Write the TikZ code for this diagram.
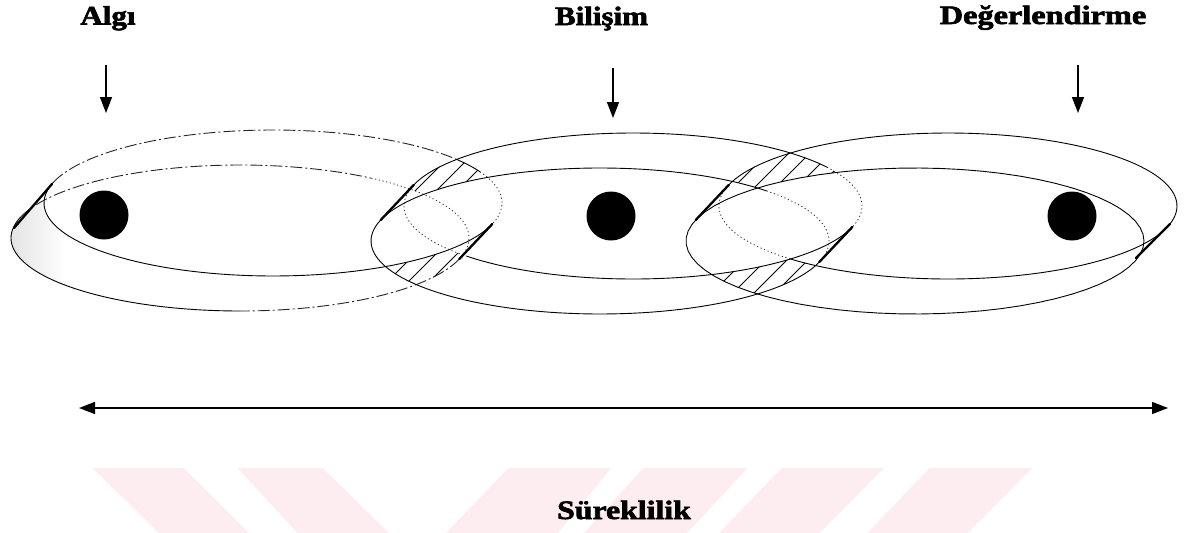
\documentclass[tikz,border=0pt]{standalone}
\usepackage{fontspec}
\setmainfont{Liberation Serif}
\newfontfamily\labfont[FakeBold=2.2]{Liberation Serif Bold}
\usetikzlibrary{arrows.meta}
\definecolor{wm}{HTML}{FDEDF0}
% ellipse arc: center (#1,#2), angles #3..#4 (screen y downwards)
\newcommand\earc[4]{plot[domain=#3:#4,samples=70,variable=\ang]({#1+229*cos(\ang)},{#2+73*sin(\ang)})}
% swept band region of a ring whose upper rim has centre (#1,#2)
\newcommand\swept[2]{plot[domain=196.7:376.7,samples=70,variable=\ang]({#1+229*cos(\ang)},{#2+73*sin(\ang)}) -- plot[domain=16.7:196.7,samples=70,variable=\ang]({#1-33+229*cos(\ang)},{#2+35+73*sin(\ang)}) -- cycle}
\newcommand\bigrect{(-100,-100) rectangle (1300,700)}
\newcommand\hatchpair[4]{%
  \foreach \oa in {0,1}{\foreach \ob in {0,1}{%
    \begin{scope}[even odd rule]
      \clip \swept{#1}{#2};
      \clip \swept{#3}{#4};
      \clip \bigrect \earc{#1-33*\oa}{#2+35*\oa}{0}{360} -- cycle;
      \clip \bigrect \earc{#3-33*\ob}{#4+35*\ob}{0}{360} -- cycle;
      \foreach \h in {150,171,...,900} \draw[hatchline] (\h,330) -- ++(220,-220);
    \end{scope}}}}
\begin{document}
\begin{tikzpicture}[x=1pt,y=-1pt,
  rim/.style={line width=0.9pt, black},
  rimone/.style={line width=0.9pt, black!85, dash pattern=on 12pt off 3pt on 2pt off 3pt},
  hid/.style={line width=0.8pt, black!80, dash pattern=on 1.2pt off 2.6pt},
  sil/.style={line width=2.3pt, black, line cap=round},
  hatchline/.style={line width=0.8pt, black},
  dot/.style={circle, fill=black, minimum size=49pt, inner sep=0pt},
  lab/.style={font=\labfont\fontsize{26.5}{31}\selectfont, inner sep=0pt, anchor=base},
  varr/.style={line width=1.5pt, -{Triangle[length=16pt,width=12pt]}},
  harr/.style={line width=1.4pt, {Triangle[length=16pt,width=12pt]}-{Triangle[length=16pt,width=12pt]}}]
\useasboundingbox (0,0) rectangle (1184,533);
\fill[white] (0,0) rectangle (1184,533);

% watermark
\fill[wm] (92.6,468) -- (183.7,468) -- (249,533) -- (159,533) -- cycle;
\fill[wm] (237.6,468) -- (322.6,468) -- (389,533) -- (297.5,533) -- cycle;
\fill[wm] (508.5,468) -- (611,468) -- (558,533) -- (446,533) -- cycle;
\fill[wm] (643.6,468) -- (747.6,468) -- (687,533) -- (584,533) -- cycle;
\fill[wm] (781.7,468) -- (884,468) -- (819.7,533) -- (719.5,533) -- cycle;
\fill[wm] (929.7,468) -- (1032,468) -- (967.7,533) -- (867.5,533) -- cycle;

% light stipple at the left end of the first band
\begin{scope}[even odd rule]
  \clip \earc{240}{238}{0}{360} -- cycle;
  \clip \bigrect \earc{273}{203}{0}{360} -- cycle;
  \shade[left color=black!13, right color=white] (0,170) rectangle (65,300);
\end{scope}

% hatching where the bands cross
\hatchpair{273}{203}{633}{206}
\hatchpair{633}{206}{948}{206}

% ring 1 (upper rim centre 273,203; lower rim centre 240,238)
\draw[rimone] \earc{273}{203}{196.7}{323.5};
\draw[rim] \earc{273}{203}{323.5}{334.7};
\draw[hid] \earc{273}{203}{334.7}{376.7};
\draw[rim] \earc{273}{203}{16.7}{196.7};
\draw[rimone] \earc{240}{238}{196.7}{305};
\draw[hid] \earc{240}{238}{305}{376.7};
\draw[rimone] \earc{240}{238}{16.7}{90};
\draw[rim] \earc{240}{238}{90}{196.7};

% ring 2 (upper rim centre 633,206; lower rim centre 600,241)
\draw[rim] \earc{633}{206}{196.7}{328};
\draw[hid] \earc{633}{206}{328}{376.7};
\draw[rim] \earc{633}{206}{16.7}{136.5};
\draw[hid] \earc{633}{206}{136.5}{196.7};
\draw[rim] \earc{600}{241}{196.7}{316.7};
\draw[hid] \earc{600}{241}{316.7}{376.7};
\draw[rim] \earc{600}{241}{16.7}{196.7};

% ring 3 (upper rim centre 948,206; lower rim centre 915,241)
\draw[rim] \earc{948}{206}{196.7}{376.7};
\draw[rim] \earc{948}{206}{16.7}{133.6};
\draw[hid] \earc{948}{206}{133.6}{196.7};
\draw[rim] \earc{915}{241}{0}{360};

% band silhouettes
\coordinate (s1a) at (52,184); \coordinate (s1b) at (14,228);
\coordinate (s1c) at (492.3,224); \coordinate (s1d) at (459.3,259);
\coordinate (s2a) at (413.7,185); \coordinate (s2b) at (380.7,220);
\coordinate (s2c) at (852.3,227); \coordinate (s2d) at (819.3,262);
\coordinate (s3a) at (728.7,185); \coordinate (s3b) at (695.7,220);
\coordinate (s3c) at (1170,224); \coordinate (s3d) at (1136,258);
\draw[sil] (s1a) -- (s1b);
\draw[sil] (s1c) -- (s1d);
\draw[sil] (s2a) -- (s2b);
\draw[sil] (s2c) -- (s2d);
\draw[sil] (s3a) -- (s3b);
\draw[sil] (s3c) -- (s3d);

% dots
\node[dot] (d1) at (104,215) {};
\node[dot] (d2) at (611,216) {};
\node[dot] (d3) at (1072,216) {};

% labels
\node[lab] (algi) at (108,24.5) {\scalebox{1.17}[1]{Algı}};
\node[lab] (bilisim) at (601.5,25) {\scalebox{1.17}[1]{Bilişim}};
\node[lab] (degerl) at (1043,24) {\scalebox{1.22}[1]{Değerlendirme}};
\node[lab] (surek) at (624,519) {\scalebox{1.2}[1]{Süreklilik}};

% arrows
\coordinate (a1s) at (106,65); \coordinate (a1e) at (106,113);
\coordinate (a2s) at (613,68); \coordinate (a2e) at (613,118);
\coordinate (a3s) at (1078,65); \coordinate (a3e) at (1078,113);
\draw[varr] (a1s) -- (a1e);
\draw[varr] (a2s) -- (a2e);
\draw[varr] (a3s) -- (a3e);
\coordinate (hl) at (79,408); \coordinate (hr) at (1168,408);
\draw[harr] (hl) -- (hr);
\end{tikzpicture}
\end{document}
